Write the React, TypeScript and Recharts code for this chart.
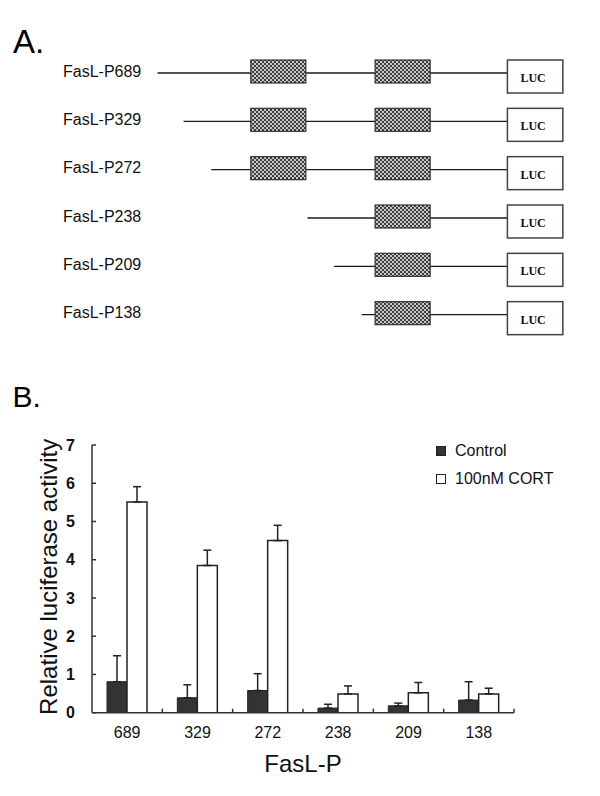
import React from "react";
import { BarChart, Bar, XAxis, YAxis, ErrorBar, Legend } from "recharts";

const ARIAL = 'Arial, "Liberation Sans", Helvetica, sans-serif';

// panel A: promoter deletion constructs (positions in diagram units, 0-100)
const constructs = ["FasL-P689", "FasL-P329", "FasL-P272", "FasL-P238", "FasL-P209", "FasL-P138"];
const lineStarts = [1.8, 8, 14.6, 37.5, 43.8, 50.4];
const box1Spans: ([number, number] | null)[] = [[24, 37.1], [24, 37.1], [24, 37.1], null, null, null];
const box2Span: [number, number] = [53.6, 66.7];
const lucSpan: [number, number] = [85.1, 98.3];

// panel B: luciferase activity
const promoters = ["689", "329", "272", "238", "209", "138"];
const controlMean = [0.81, 0.39, 0.58, 0.12, 0.18, 0.33];
const controlSem = [0.68, 0.34, 0.44, 0.1, 0.07, 0.48];
const cortMean = [5.51, 3.85, 4.5, 0.49, 0.52, 0.49];
const cortSem = [0.4, 0.4, 0.4, 0.21, 0.27, 0.15];
const yTicks = [0, 1, 2, 3, 4, 5, 6, 7];

const constructRows = constructs.map((name, i) => ({
  name,
  backbone: [lineStarts[i], lucSpan[0]],
  box1: box1Spans[i],
  box2: box2Span,
  luc: lucSpan,
}));

const activityRows = promoters.map((name, i) => ({
  name,
  control: controlMean[i],
  controlErr: [0, controlSem[i]],
  cort: cortMean[i],
  cortErr: [0, cortSem[i]],
}));

function ConstructTick(p: any) {
  return (
    <text x={63} y={p.y} dy={3.5} fontFamily={ARIAL} fontSize={16} fill="#111">
      {p.payload.value}
    </text>
  );
}

function BackboneShape(p: any) {
  const cy = p.y + p.height / 2;
  return <line x1={p.x} x2={p.x + p.width} y1={cy} y2={cy} stroke="#1a1a1a" strokeWidth={1.3} />;
}

function ElementShape(p: any) {
  if (!(p.width > 0)) return <g />;
  const cy = p.y + p.height / 2;
  return (
    <rect x={p.x} y={cy - 13} width={p.width} height={23} fill="url(#fasl-dither)" stroke="#333" strokeWidth={1.2} />
  );
}

function LucShape(p: any) {
  const cy = p.y + p.height / 2;
  return (
    <g>
      <rect x={p.x} y={cy - 13} width={p.width} height={33} fill="#fff" stroke="#444" strokeWidth={1.5} />
      <text
        x={p.x + p.width / 2 - 2}
        y={cy + 9}
        textAnchor="middle"
        fontFamily='"Times New Roman", "Liberation Serif", serif'
        fontWeight={700}
        fontSize={12}
        fill="#111"
      >
        LUC
      </text>
    </g>
  );
}

function PromoterTick(p: any) {
  const half =
    typeof p.payload?.offset === "number" && p.payload.offset > 0
      ? p.payload.offset
      : p.width && p.visibleTicksCount
      ? p.width / p.visibleTicksCount / 2
      : 35;
  const axisY = p.y - 14;
  return (
    <g>
      <line x1={p.x + half} x2={p.x + half} y1={axisY} y2={axisY - 4} stroke="#333" strokeWidth={1.5} />
      <text x={p.x} y={p.y} dy={11.5} textAnchor="middle" fontFamily={ARIAL} fontSize={16} fill="#111">
        {p.payload.value}
      </text>
    </g>
  );
}

function YTitle(p: any) {
  const vb = p.viewBox || { x: 0, y: 25, width: 92, height: 268 };
  const cx = vb.x + 57;
  const cy = vb.y + vb.height / 2 - 2;
  return (
    <text
      x={cx}
      y={cy}
      transform={`rotate(-90, ${cx}, ${cy})`}
      textAnchor="middle"
      fontFamily={ARIAL}
      fontSize={24}
      fill="#111"
    >
      Relative luciferase activity
    </text>
  );
}

function LegendBox(p: any) {
  return (
    <div style={{ fontFamily: ARIAL, fontSize: 16, color: "#111" }}>
      {(p.payload || []).map((e: any) => (
        <div key={e.value} style={{ display: "flex", alignItems: "center", height: 20, marginBottom: 8 }}>
          <span
            style={{
              display: "inline-block",
              width: 10,
              height: 10,
              boxSizing: "border-box",
              background: e.color,
              border: "1.5px solid #222",
              marginRight: 9,
            }}
          />
          <span>{e.value}</span>
        </div>
      ))}
    </div>
  );
}

export default function App() {
  return (
    <div
      style={{
        position: "absolute",
        left: 0,
        top: 0,
        width: 600,
        height: 796,
        background: "#fff",
        fontFamily: ARIAL,
        overflow: "hidden",
      }}
    >
      <svg width={0} height={0} style={{ position: "absolute" }}>
        <defs>
          <pattern id="fasl-dither" width={4} height={4} patternUnits="userSpaceOnUse">
            <rect width={4} height={4} fill="#3c3c3c" />
            <rect width={2} height={2} fill="#c9c9c9" />
            <rect x={2} y={2} width={2} height={2} fill="#c9c9c9" />
          </pattern>
        </defs>
      </svg>

      <div style={{ position: "absolute", left: 13, top: 24.7, fontSize: 33, lineHeight: 1, color: "#000" }}>A.</div>
      <div style={{ position: "absolute", left: 12.6, top: 382, fontSize: 30, lineHeight: 1, color: "#000" }}>B.</div>

      <div style={{ position: "absolute", left: 0, top: 49 }}>
        <BarChart
          layout="vertical"
          width={600}
          height={290}
          data={constructRows}
          margin={{ top: 0, right: 30, bottom: 0, left: 0 }}
          barSize={34}
          barGap={-34}
        >
          <XAxis type="number" domain={[0, 100]} hide />
          <YAxis
            type="category"
            dataKey="name"
            width={150}
            axisLine={false}
            tickLine={false}
            tick={<ConstructTick />}
            interval={0}
          />
          <Bar dataKey="backbone" isAnimationActive={false} shape={(p: any) => <BackboneShape {...p} />} />
          <Bar dataKey="box1" isAnimationActive={false} shape={(p: any) => <ElementShape {...p} />} />
          <Bar dataKey="box2" isAnimationActive={false} shape={(p: any) => <ElementShape {...p} />} />
          <Bar dataKey="luc" isAnimationActive={false} shape={(p: any) => <LucShape {...p} />} />
        </BarChart>
      </div>

      <div style={{ position: "absolute", left: 0, top: 420 }}>
        <BarChart
          width={600}
          height={370}
          data={activityRows}
          margin={{ top: 25, right: 86, bottom: 0, left: 0 }}
          barGap={0}
          barSize={20}
        >
          <XAxis
            dataKey="name"
            height={77.3}
            axisLine={{ stroke: "#333", strokeWidth: 1.5 }}
            tickLine={false}
            tickSize={0}
            tickMargin={14}
            tick={<PromoterTick />}
            interval={0}
            label={{
              value: "FasL-P",
              position: "insideBottom",
              offset: 18,
              fontSize: 24,
              fill: "#111",
              fontFamily: ARIAL,
            }}
          />
          <YAxis
            domain={[0, 7]}
            ticks={yTicks}
            width={92}
            allowDataOverflow
            interval={0}
            axisLine={{ stroke: "#333", strokeWidth: 1.5 }}
            tickLine={{ stroke: "#333", strokeWidth: 1.5 }}
            tickSize={-4}
            tickMargin={21}
            tick={{ fontFamily: ARIAL, fontSize: 16, fontWeight: 700, fill: "#111" }}
            label={(p: any) => <YTitle {...p} />}
          />
          <Legend
            layout="horizontal"
            verticalAlign="middle"
            align="center"
            itemSorter="dataKey"
            wrapperStyle={{ left: 436, top: 21, width: 160, height: 56 }}
            content={(p: any) => <LegendBox {...p} />}
          />
          <Bar dataKey="control" name="Control" fill="#333" stroke="#222" strokeWidth={1} isAnimationActive={false}>
            <ErrorBar dataKey="controlErr" width={4} stroke="#222" strokeWidth={1.5} direction="y" isAnimationActive={false} />
          </Bar>
          <Bar dataKey="cort" name="100nM CORT" fill="#fff" stroke="#222" strokeWidth={1.5} isAnimationActive={false}>
            <ErrorBar dataKey="cortErr" width={4} stroke="#222" strokeWidth={1.5} direction="y" isAnimationActive={false} />
          </Bar>
        </BarChart>
      </div>
    </div>
  );
}
